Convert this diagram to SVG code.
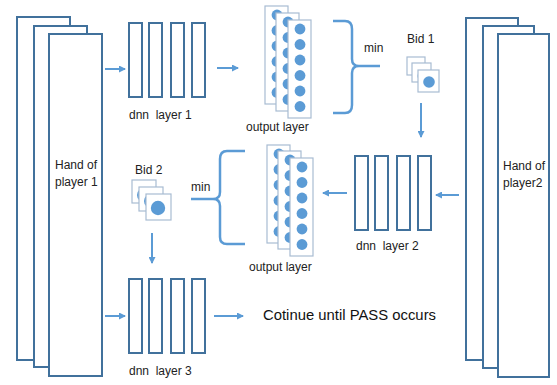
<svg xmlns="http://www.w3.org/2000/svg" width="557" height="385" viewBox="0 0 557 385">
<defs>
<style>
.hand{fill:#fff;stroke:#41719C;stroke-width:2}
.bar{fill:#fff;stroke:#41719C;stroke-width:2}
.ol{fill:#fff;stroke:#A8BCD2;stroke-width:1.2}
.dot{fill:#5B9BD5}
.conn{stroke:#5B9BD5;stroke-width:2;fill:none}
.brace{stroke:#5B9BD5;stroke-width:2.5;fill:none}
.t{font-family:"Liberation Sans",Arial,sans-serif;font-size:12px;fill:#222;white-space:pre}
.big{font-family:"Liberation Sans",Arial,sans-serif;font-size:15px;fill:#111}
</style>
<marker id="ah" markerWidth="7" markerHeight="7" refX="6" refY="3.5" orient="auto" markerUnits="userSpaceOnUse">
<path d="M0,0 L7,3.5 L0,7 Z" fill="#5B9BD5"/>
</marker>
<g id="col">
<rect class="ol" x="0" y="0" width="23" height="98"/>
<circle class="dot" cx="12" cy="9" r="5.4"/><circle class="dot" cx="12" cy="24.5" r="5.4"/><circle class="dot" cx="12" cy="40" r="5.4"/><circle class="dot" cx="12" cy="55.5" r="5.4"/><circle class="dot" cx="12" cy="71" r="5.4"/><circle class="dot" cx="12" cy="86.5" r="5.4"/>
</g>
<g id="bars">
<rect class="bar" x="0" y="0" width="13" height="74"/>
<rect class="bar" x="20" y="0" width="13" height="74"/>
<rect class="bar" x="42" y="0" width="13" height="74"/>
<rect class="bar" x="63" y="0" width="13" height="74"/>
</g>
</defs>
<rect width="557" height="385" fill="#fff"/>

<g id="hand1">
<rect class="hand" x="17" y="17" width="53" height="343"/>
<rect class="hand" x="34" y="26" width="53" height="341"/>
<rect class="hand" x="49" y="34" width="53" height="342"/>
<text class="t" x="55" y="169" font-size="13">Hand of</text>
<text class="t" x="55" y="186" font-size="13">player 1</text>
</g>

<g id="hand2">
<rect class="hand" x="466" y="18" width="52" height="342"/>
<rect class="hand" x="483" y="26" width="51" height="342"/>
<rect class="hand" x="498" y="34" width="51" height="343"/>
<text class="t" x="503" y="170" font-size="13">Hand of</text>
<text class="t" x="503" y="187" font-size="13">player2</text>
</g>

<g id="dnn1">
<use href="#bars" x="129" y="23"/>
<text class="t" x="129" y="119" xml:space="preserve">dnn  layer 1</text>
</g>

<g id="dnn2">
<use href="#bars" x="355" y="156"/>
<text class="t" x="356" y="250" xml:space="preserve">dnn  layer 2</text>
</g>

<g id="dnn3">
<use href="#bars" x="129" y="279"/>
<text class="t" x="129" y="375" xml:space="preserve">dnn  layer 3</text>
</g>

<g id="out1">
<use href="#col" x="265" y="6"/>
<use href="#col" x="276" y="13"/>
<use href="#col" x="288" y="20"/>
<text class="t" x="246" y="131">output layer</text>
</g>

<g id="out2">
<use href="#col" x="267" y="145"/>
<use href="#col" x="278" y="151"/>
<use href="#col" x="290" y="158"/>
<text class="t" x="249" y="271">output layer</text>
</g>

<g id="bid1">
<rect class="ol" x="407" y="57" width="18" height="18"/>
<circle class="dot" cx="418" cy="69" r="5.5"/>
<rect class="ol" x="412" y="63" width="19" height="19"/>
<circle class="dot" cx="423" cy="76" r="5.5"/>
<rect class="ol" x="418" y="70" width="21" height="22"/>
<circle class="dot" cx="429" cy="82" r="5.8"/>
<text class="t" x="407" y="43">Bid 1</text>
</g>

<g id="bid2">
<rect class="ol" x="132" y="180" width="24" height="23"/>
<circle class="dot" cx="144" cy="195" r="7"/>
<rect class="ol" x="139" y="187" width="24" height="24"/>
<circle class="dot" cx="151" cy="201" r="7"/>
<rect class="ol" x="146" y="194" width="25" height="26"/>
<circle class="dot" cx="158" cy="208" r="7.2"/>
<text class="t" x="135" y="174">Bid 2</text>
</g>

<g id="min1">
<path class="brace" d="M333,21 L345,21 Q352,21 352,29 L352,59 Q352,66 359,66 L380,66 M359,66 Q352,66 352,73 L352,105 Q352,113 345,113 L333,113"/>
<text class="t" x="364" y="52">min</text>
</g>

<g id="min2">
<path class="brace" d="M245,151 L227,151 Q220,151 220,159 L220,192 Q220,199 213,199 L191,199 M213,199 Q220,199 220,206 L220,237 Q220,244 227,244 L245,244"/>
<text class="t" x="191" y="191">min</text>
</g>

<g id="text">
<text class="big" x="263" y="320" textLength="173" lengthAdjust="spacingAndGlyphs">Cotinue until PASS occurs</text>
</g>

<g id="connectors">
<line class="conn" x1="105" y1="69" x2="125" y2="69" marker-end="url(#ah)"/>
<line class="conn" x1="217" y1="68" x2="238" y2="68" marker-end="url(#ah)"/>
<line class="conn" x1="421" y1="103" x2="421" y2="137" marker-end="url(#ah)"/>
<line class="conn" x1="459" y1="195" x2="436" y2="195" marker-end="url(#ah)"/>
<line class="conn" x1="347" y1="193" x2="323" y2="193" marker-end="url(#ah)"/>
<line class="conn" x1="152" y1="233" x2="152" y2="263" marker-end="url(#ah)"/>
<line class="conn" x1="105" y1="316" x2="125" y2="316" marker-end="url(#ah)"/>
<line class="conn" x1="214" y1="316" x2="243" y2="316" marker-end="url(#ah)"/>
</g>
</svg>
